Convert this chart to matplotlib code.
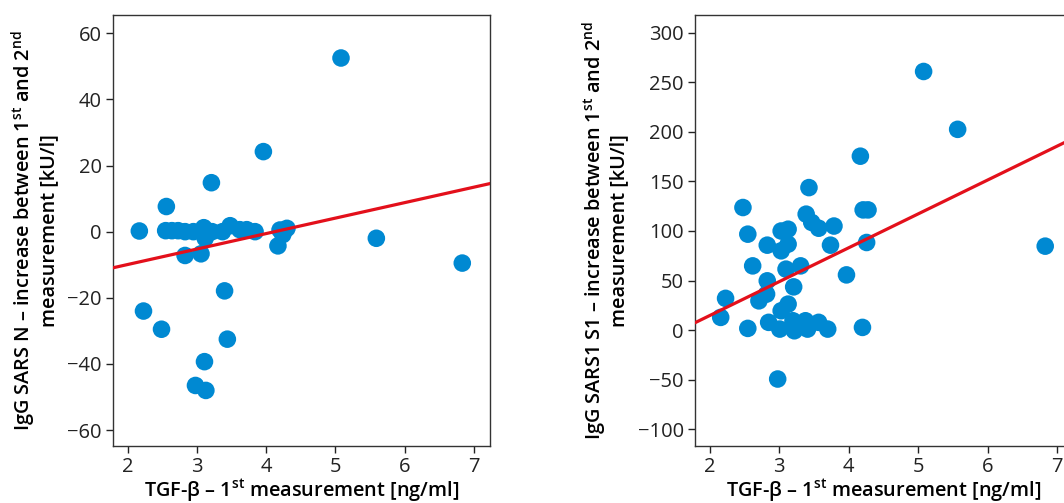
import matplotlib
matplotlib.use("Agg")
import matplotlib.pyplot as plt
from matplotlib import rcParams

# 字体设置
rcParams['font.family'] = ['Open Sans', 'DejaVu Sans']
rcParams['mathtext.fontset'] = 'custom'
rcParams['mathtext.rm'] = 'Open Sans'
rcParams['mathtext.default'] = 'regular'

# 数据: TGF-beta 第一次测量 vs IgG 增加值
tgf_n = [2.17, 2.23, 2.49, 2.56, 2.55, 2.64, 2.73, 2.83, 2.83, 2.95, 3.06, 3.10,
         3.12, 3.11, 2.98, 3.13, 3.21, 3.22, 3.37, 3.40, 3.44, 3.48, 3.62, 3.72,
         3.84, 3.96, 4.17, 4.20, 4.30, 4.24, 5.08, 5.59, 6.83]
igg_n = [0.2, -24.0, -29.5, 7.6, 0.3, 0.3, 0.3, -7.2, 0.0, 0.0, -6.7, 1.2,
         -2.0, -39.3, -46.5, -48.0, 14.8, 0.0, 0.0, -17.9, -32.5, 1.8, 0.6, 0.6,
         0.0, 24.2, -4.3, 0.5, 1.0, -0.9, 52.5, -2.0, -9.5]

tgf_s1 = [2.48, 2.55, 2.83, 2.62, 3.03, 3.13, 3.13, 3.03, 3.39, 3.47, 3.57, 3.79,
          3.74, 3.97, 3.10, 3.31, 3.21, 2.83, 2.82, 2.71, 2.23, 2.16, 2.55, 2.85,
          3.13, 3.03, 3.01, 3.20, 3.22, 3.38, 3.41, 3.57, 3.70, 4.20, 4.21, 4.28,
          4.26, 3.43, 2.98, 4.17, 5.08, 5.57, 6.83]
igg_s1 = [123.7, 96.8, 85.7, 64.8, 100.0, 101.8, 86.7, 80.0, 117.0, 108.6, 102.8, 105.0,
          85.7, 55.7, 61.5, 64.8, 43.6, 49.7, 36.3, 29.5, 32.0, 12.8, 1.7, 7.8,
          26.2, 19.5, 1.0, 9.4, -0.7, 9.4, 1.0, 7.8, 1.0, 2.7, 121.3, 121.3,
          88.4, 143.8, -49.4, 175.5, 261.0, 202.6, 84.7]

# 回归线 (斜率, 截距)
fit_n = (4.68, -19.3)
fit_s1 = (34.2, -53.8)

x_ticks = [2, 3, 4, 5, 6, 7]
y_ticks_n = [-60, -40, -20, 0, 20, 40, 60]
y_ticks_s1 = [-100, -50, 0, 50, 100, 150, 200, 250, 300]

dot_color = '#0089D2'
line_color = '#E3101B'
xlabel = 'TGF-\u03b2 \u2013 1$^{st}$ measurement [ng/ml]'

fig = plt.figure(figsize=(10.64, 5.03), dpi=100)
ax1 = fig.add_axes([113 / 1064, 1 - 446 / 503, 377 / 1064, 431 / 503])
ax2 = fig.add_axes([695 / 1064, 1 - 446 / 503, 378 / 1064, 431 / 503])

panels = [
    (ax1, tgf_n, igg_n, fit_n, y_ticks_n, (-64.8, 65.5),
     'IgG SARS N \u2013 increase between 1$^{st}$ and 2$^{nd}$\nmeasurement [kU/l]'),
    (ax2, tgf_s1, igg_s1, fit_s1, y_ticks_s1, (-117, 318),
     'IgG SARS1 S1 \u2013 increase between 1$^{st}$ and 2$^{nd}$\nmeasurement [kU/l]'),
]

for ax, xs, ys, fit, yt, ylim, ylab in panels:
    ax.scatter(xs, ys, s=160, color=dot_color, edgecolors='none', zorder=2)
    xlim = (1.79, 7.23)
    ax.plot(xlim, [fit[0] * v + fit[1] for v in xlim], color=line_color, lw=2.3, zorder=3)
    ax.set_xlim(xlim)
    ax.set_ylim(ylim)
    ax.set_xticks(x_ticks)
    ax.set_yticks(yt)
    ax.set_yticklabels([str(v).replace('-', '\u2212') for v in yt])
    ax.tick_params(labelsize=14.5, length=5, width=1, direction='out', colors='#222222', pad=3)
    ax.set_xlabel(xlabel, fontsize=14.3, fontweight='semibold', labelpad=0)
    ax.set_ylabel(ylab, fontsize=14.3, fontweight='semibold', labelpad=6, linespacing=1.05)
    for sp in ax.spines.values():
        sp.set_linewidth(1.0)
        sp.set_color('#333333')

fig.savefig('out.png', dpi=100)
